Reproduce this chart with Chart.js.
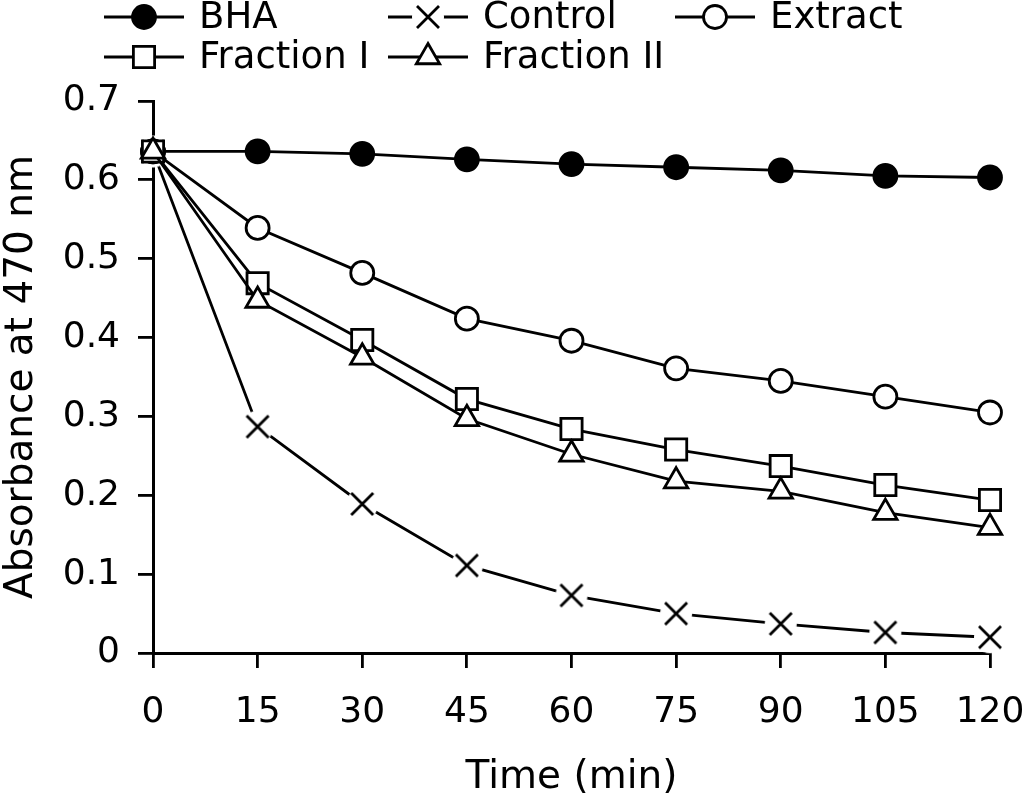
<!DOCTYPE html>
<html>
<head>
<meta charset="utf-8">
<script src="https://cdn.jsdelivr.net/npm/chart.js@4/dist/chart.umd.min.js"></script>
<style>
  html, body { margin: 0; padding: 0; background: #fff; }
  #chart { display: block; }
</style>
</head>
<body>
<canvas id="chart" width="1024" height="804"></canvas>
<script>
// time points (min)
const times = [0, 15, 30, 45, 60, 75, 90, 105, 120];

// absorbance at 470 nm
const bha = [0.636, 0.636, 0.633, 0.626, 0.620, 0.616, 0.612, 0.605, 0.603];
const control = [0.636, 0.287, 0.189, 0.111, 0.073, 0.050, 0.037, 0.026, 0.020];
const extract = [0.636, 0.539, 0.482, 0.424, 0.396, 0.361, 0.345, 0.325, 0.305];
const fraction1 = [0.636, 0.469, 0.397, 0.322, 0.284, 0.258, 0.237, 0.213, 0.194];
const fraction2 = [0.636, 0.447, 0.375, 0.297, 0.252, 0.218, 0.205, 0.178, 0.159];

const seriesNames = ['BHA', 'Control', 'Extract', 'Fraction I', 'Fraction II'];
const yTicks = [0, 0.1, 0.2, 0.3, 0.4, 0.5, 0.6, 0.7];

const FONT = '"DejaVu Sans", "Liberation Sans", Arial, sans-serif';
const LW = 2.8;
Chart.defaults.font.family = FONT;
Chart.defaults.color = '#000';

// cross marker with a white halo so the line breaks around it
function crossMarker() {
    const c = document.createElement('canvas');
    c.width = 36;
    c.height = 36;
    const g = c.getContext('2d');
    g.fillStyle = '#fff';
    g.beginPath();
    g.arc(18, 18, 16, 0, Math.PI * 2);
    g.fill();
    g.strokeStyle = '#000';
    g.lineWidth = LW;
    g.beginPath();
    g.moveTo(7, 7); g.lineTo(29, 29);
    g.moveTo(29, 7); g.lineTo(7, 29);
    g.stroke();
    return c;
}
const xMark = crossMarker();

function points(arr) {
    return times.map((t, i) => ({ x: t, y: arr[i] }));
}

function series(name, arr, style, radius, fill, order) {
    return {
        label: name,
        data: points(arr),
        borderColor: '#000',
        borderWidth: LW,
        pointStyle: style,
        pointRadius: radius,
        pointHoverRadius: radius,
        pointBackgroundColor: fill,
        pointBorderColor: '#000',
        pointBorderWidth: LW,
        tension: 0,
        fill: false,
        clip: false,
        order: order
    };
}

// legend drawn as line + marker + label in two rows
const legendSlots = [
    { x: 104, y: 17 }, { x: 388, y: 17 }, { x: 675, y: 17 },
    { x: 104, y: 57 }, { x: 388, y: 57 }
];

const lineLegend = {
    id: 'lineLegend',
    afterDraw(chart) {
        const ctx = chart.ctx;
        chart.data.datasets.forEach((ds, i) => {
            const s = legendSlots[i];
            ctx.save();
            ctx.strokeStyle = '#000';
            ctx.lineWidth = LW;
            ctx.beginPath();
            ctx.moveTo(s.x, s.y);
            ctx.lineTo(s.x + 80, s.y);
            ctx.stroke();
            ctx.fillStyle = ds.pointBackgroundColor;
            ctx.strokeStyle = '#000';
            ctx.lineWidth = LW;
            Chart.helpers.drawPoint(ctx, {
                pointStyle: ds.pointStyle,
                radius: ds.pointRadius,
                borderWidth: LW,
                rotation: 0
            }, s.x + 40, s.y);
            ctx.fillStyle = '#000';
            ctx.font = '37px ' + FONT;
            ctx.textBaseline = 'middle';
            ctx.textAlign = 'left';
            ctx.fillText(ds.label, s.x + 95, s.y + 1);
            ctx.restore();
        });
    }
};

new Chart(document.getElementById('chart'), {
    type: 'line',
    data: {
        datasets: [
            series(seriesNames[0], bha, 'circle', 11.5, '#000', 3),
            series(seriesNames[1], control, xMark, 16, '#fff', 4),
            series(seriesNames[2], extract, 'circle', 11.5, '#fff', 2),
            series(seriesNames[3], fraction1, 'rect', 15, '#fff', 1),
            series(seriesNames[4], fraction2, 'triangle', 13.5, '#fff', 0)
        ]
    },
    options: {
        responsive: false,
        devicePixelRatio: 1,
        animation: false,
        layout: { padding: { top: 101, right: 34, left: 0, bottom: 0 } },
        plugins: {
            legend: { display: false },
            tooltip: { enabled: false }
        },
        scales: {
            x: {
                type: 'linear',
                min: 0,
                max: 120,
                afterFit(scale) {
                    scale.height = 151;
                    scale.paddingLeft = 0;
                    scale.paddingRight = 0;
                },
                ticks: {
                    stepSize: 15,
                    padding: 23,
                    font: { size: 36 },
                    color: '#000'
                },
                grid: {
                    drawOnChartArea: false,
                    drawTicks: true,
                    tickLength: 15,
                    color: '#000',
                    lineWidth: LW
                },
                border: { display: true, color: '#000', width: 3 },
                title: {
                    display: true,
                    text: 'Time (min)',
                    font: { size: 39, lineHeight: 1 },
                    padding: { top: 0, bottom: 7 },
                    color: '#000'
                }
            },
            y: {
                min: 0,
                max: 0.7,
                afterFit(scale) {
                    scale.width = 153;
                    scale.paddingTop = 0;
                    scale.paddingBottom = 0;
                },
                afterBuildTicks(scale) {
                    scale.ticks = yTicks.map(v => ({ value: v }));
                },
                ticks: {
                    padding: 18,
                    font: { size: 36 },
                    color: '#000',
                    callback: v => (v === 0 ? '0' : v.toFixed(1))
                },
                grid: {
                    drawOnChartArea: false,
                    drawTicks: true,
                    tickLength: 15,
                    color: '#000',
                    lineWidth: LW
                },
                border: { display: true, color: '#000', width: 3 },
                title: {
                    display: true,
                    text: 'Absorbance at 470 nm',
                    font: { size: 39, lineHeight: 1 },
                    padding: { top: 2, bottom: 0 },
                    color: '#000'
                }
            }
        }
    },
    plugins: [lineLegend]
});
</script>
</body>
</html>
